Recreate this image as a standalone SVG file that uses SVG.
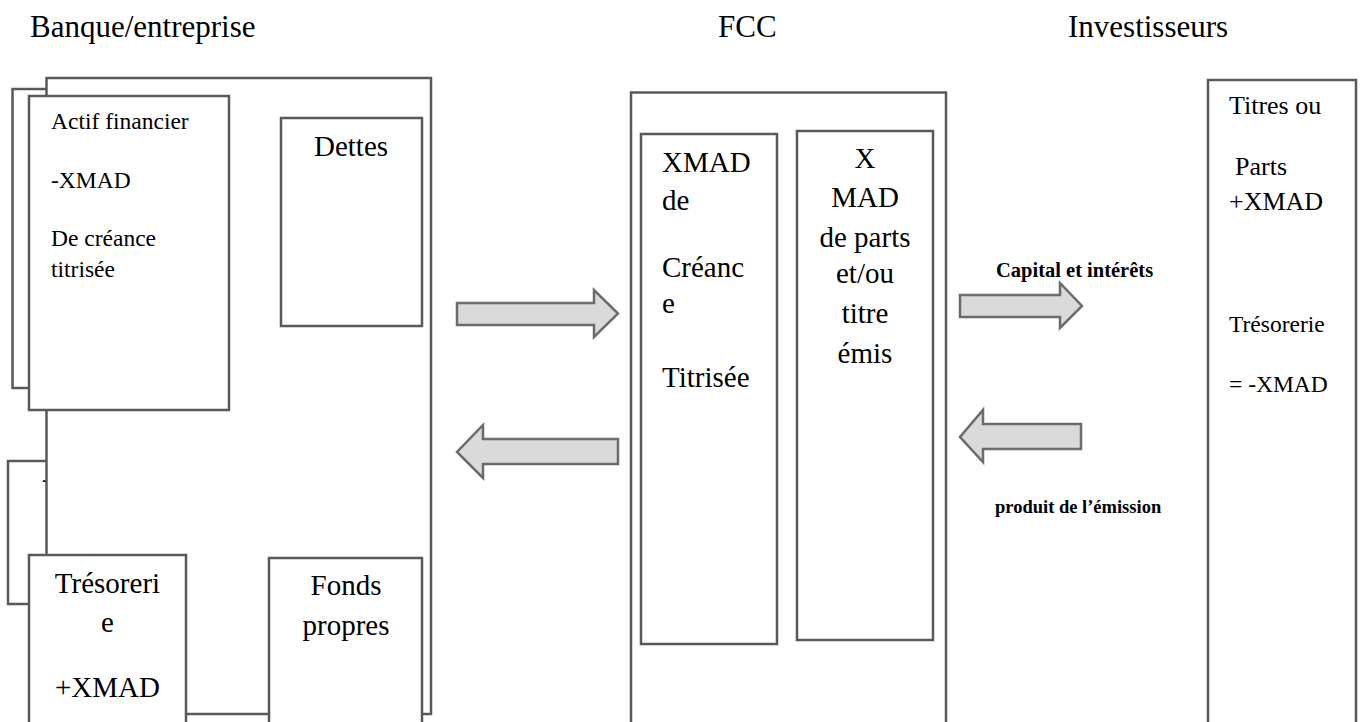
<svg xmlns="http://www.w3.org/2000/svg" width="1364" height="722" viewBox="0 0 1364 722">
  <style>
    .box { fill: #ffffff; stroke: #595959; stroke-width: 2.5; }
    .arrow { fill: #dadada; stroke: #6b6b6b; stroke-width: 2.5; stroke-linejoin: miter; }
    text { font-family: "Liberation Serif", "Times New Roman", serif; fill: #000000; }
    .head { font-size: 31px; }
    .lg { font-size: 29px; }
    .md { font-size: 26px; }
    .sm { font-size: 23.5px; }
    .lbl { font-weight: bold; }
    .mid { text-anchor: middle; }
  </style>

  <!-- column titles -->
  <g id="titles">
    <text class="head" x="30" y="37">Banque/entreprise</text>
    <text class="head" x="718" y="37">FCC</text>
    <text class="head" x="1068" y="37">Investisseurs</text>
  </g>

  <!-- balance sheet of the originator -->
  <g id="banque">
    <rect class="box" x="12.5" y="89" width="90" height="299"/>
    <rect class="box" x="8" y="461" width="90" height="143"/>
    <text class="sm" x="42" y="487">-</text>
    <rect class="box" x="46.5" y="78" width="384.5" height="636"/>
  </g>

  <g id="actif">
    <rect class="box" x="29" y="96" width="200" height="314"/>
    <text class="sm" x="51" y="129">Actif financier</text>
    <text class="sm" x="51" y="188">-XMAD</text>
    <text class="sm" x="51" y="246">De créance</text>
    <text class="sm" x="51" y="277">titrisée</text>
  </g>

  <g id="dettes">
    <rect class="box" x="281" y="118" width="141" height="208"/>
    <text class="lg mid" x="351" y="156">Dettes</text>
  </g>

  <g id="tresorerie">
    <rect class="box" x="29" y="555" width="157" height="190"/>
    <text class="lg mid" x="107.5" y="593">Trésoreri</text>
    <text class="lg mid" x="107.5" y="632">e</text>
    <text class="lg mid" x="107.5" y="697">+XMAD</text>
  </g>

  <g id="fonds-propres">
    <rect class="box" x="269" y="558" width="153" height="190"/>
    <text class="lg mid" x="346" y="595">Fonds</text>
    <text class="lg mid" x="346" y="635">propres</text>
  </g>

  <!-- securitisation fund -->
  <g id="fcc">
    <rect class="box" x="631" y="92.5" width="315" height="660"/>
  </g>

  <g id="fcc-creance">
    <rect class="box" x="641" y="134" width="136" height="510"/>
    <text class="lg" x="662" y="172">XMAD</text>
    <text class="lg" x="662" y="210">de</text>
    <text class="lg" x="662" y="277">Créanc</text>
    <text class="lg" x="662" y="313">e</text>
    <text class="lg" x="662" y="387">Titrisée</text>
  </g>

  <g id="fcc-parts">
    <rect class="box" x="797" y="131" width="136" height="509"/>
    <text class="lg mid" x="865" y="168">X</text>
    <text class="lg mid" x="865" y="207">MAD</text>
    <text class="lg mid" x="865" y="247">de parts</text>
    <text class="lg mid" x="865" y="283">et/ou</text>
    <text class="lg mid" x="865" y="323">titre</text>
    <text class="lg mid" x="865" y="363">émis</text>
  </g>

  <!-- investors -->
  <g id="investisseurs">
    <rect class="box" x="1208" y="80" width="148" height="680"/>
    <text class="md" x="1229" y="114">Titres ou</text>
    <text class="md" x="1235" y="175">Parts</text>
    <text class="md" x="1229" y="210">+XMAD</text>
    <text class="sm" x="1229" y="332">Trésorerie</text>
    <text class="sm" x="1229" y="392">= -XMAD</text>
  </g>

  <!-- block arrows between the parties -->
  <g id="connectors">
    <polygon class="arrow" points="457,303 594,303 594,290 618,313.5 594,337 594,325 457,325"/>
    <polygon class="arrow" points="618,439 483,439 483,425 457,452 483,478 483,464 618,464"/>
    <polygon class="arrow" points="960,295 1060,295 1060,283 1082,306 1060,328 1060,317 960,317"/>
    <polygon class="arrow" points="1081,424 983,424 983,410 960,437 983,462 983,449 1081,449"/>
    <text class="lbl" x="996" y="277" style="font-size:20.5px">Capital et intérêts</text>
    <text class="lbl" x="995" y="513" style="font-size:18.5px">produit de l’émission</text>
  </g>
</svg>
